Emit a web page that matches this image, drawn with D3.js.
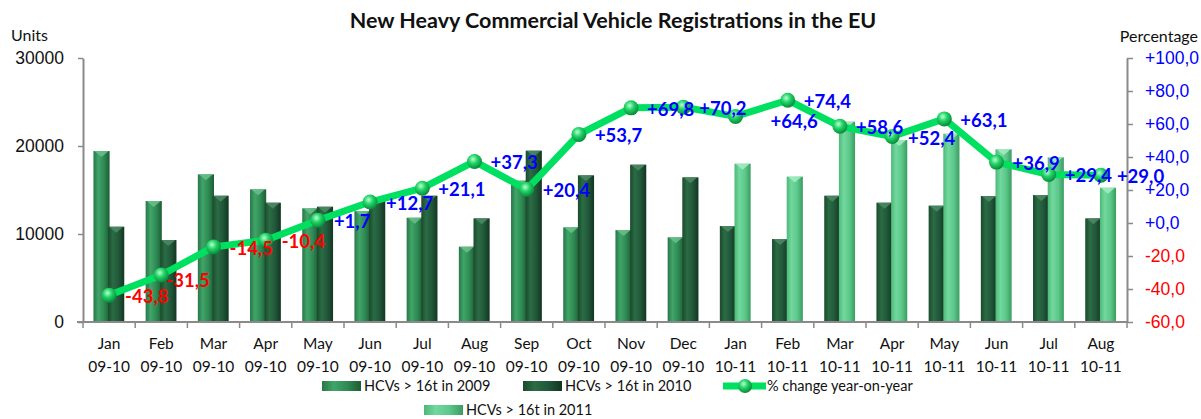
<!DOCTYPE html>
<html>
<head>
<meta charset="utf-8">
<script src="https://cdn.jsdelivr.net/npm/d3@7"></script>
<style>
	body { margin: 0; background: #fff; }
	svg { display: block; font-family: Lato, 'Liberation Sans', sans-serif; }
</style>
</head>
<body>
<svg id="chart" width="1201" height="419"></svg>
<script>
const months = ['Jan', 'Feb', 'Mar', 'Apr', 'May', 'Jun', 'Jul', 'Aug', 'Sep', 'Oct', 'Nov', 'Dec',
	'Jan', 'Feb', 'Mar', 'Apr', 'May', 'Jun', 'Jul', 'Aug'];
const periods = ['09-10', '09-10', '09-10', '09-10', '09-10', '09-10', '09-10', '09-10', '09-10', '09-10', '09-10', '09-10',
	'10-11', '10-11', '10-11', '10-11', '10-11', '10-11', '10-11', '10-11'];
const hcv2009 = [19430, 13750, 16780, 15080, 12920, 12610, 11850, 8560, 16060, 10760, 10450, 9620];
const hcv2010 = [10830, 9320, 14350, 13560, 13100, 14100, 14350, 11780, 19470, 16670, 17880, 16440,
	10910, 9430, 14350, 13560, 13220, 14320, 14430, 11780];
const hcv2011 = [17990, 16520, 22760, 20680, 21400, 19620, 18710, 15260];
const pctChange = [-43.8, -31.5, -14.5, -10.4, 1.7, 12.7, 21.1, 37.3, 20.4, 53.7, 69.8, 70.2,
	64.6, 74.4, 58.6, 52.4, 63.1, 36.9, 29.4, 29.0];
const unitTicks = [0, 10000, 20000, 30000];
const pctTicks = [-60, -40, -20, 0, 20, 40, 60, 80, 100];

// hand nudges for the data labels that were moved in the original
const labelNudge = {1: [-11, 4], 12: [19, 4]};

const categories = months.map((m, i) => i);
const svg = d3.select('#chart');

const x = d3.scaleBand().domain(categories).range([83, 1127]);
const inner = d3.scaleBand().domain(['a', 'b']).range([x.bandwidth() * 0.2, x.bandwidth() * 0.8]);
const yUnits = d3.scaleLinear().domain([0, 30000]).range([322, 58]);
const yPct = d3.scaleLinear().domain([-60, 100]).range([322, 58]);

const fmtPct = v => (v >= 0 ? '+' : '') + v.toFixed(1).replace('.', ',');
const pctColor = v => v >= 0 ? '#0000ff' : '#ff0000';

// gradients
const defs = svg.append('defs');
const barStyles = {
	s2009: {stops: ['#28764a', '#40a568', '#2f8a53', '#1d5c36'], cap: '#6cc08c'},
	s2010: {stops: ['#1a4a2c', '#2b6c44', '#21573a', '#123620'], cap: '#4f8a65'},
	s2011: {stops: ['#4cb878', '#72d89d', '#5cc88a', '#3b9c62'], cap: '#a6ecc2'},
};
Object.entries(barStyles).forEach(([key, st]) => {
	const g = defs.append('linearGradient').attr('id', 'g-' + key).attr('x1', 0).attr('x2', 1).attr('y1', 0).attr('y2', 0);
	[0, 0.3, 0.65, 1].forEach((o, i) => g.append('stop').attr('offset', o).attr('stop-color', st.stops[i]));
});
const ball = defs.append('radialGradient').attr('id', 'ball').attr('cx', 0.4).attr('cy', 0.35).attr('r', 0.65);
ball.append('stop').attr('offset', 0).attr('stop-color', '#b8ffd2');
ball.append('stop').attr('offset', 0.45).attr('stop-color', '#22d466');
ball.append('stop').attr('offset', 1).attr('stop-color', '#078a3c');

// title
svg.append('text')
	.attr('x', 613).attr('y', 28)
	.attr('text-anchor', 'middle')
	.attr('font-size', 21.5).attr('font-weight', 'bold').attr('fill', '#111')
	.text('New Heavy Commercial Vehicle Registrations in the EU');

svg.append('text').attr('x', 11).attr('y', 41).attr('font-size', 16).attr('fill', '#111').text('Units');
svg.append('text').attr('x', 1198).attr('y', 42).attr('text-anchor', 'end').attr('font-size', 16).attr('fill', '#111').text('Percentage');

// bars
const bars = [];
categories.forEach(i => {
	if (i < 12) {
		bars.push({i, slot: 'a', v: hcv2009[i], s: 's2009'});
		bars.push({i, slot: 'b', v: hcv2010[i], s: 's2010'});
	} else {
		bars.push({i, slot: 'a', v: hcv2010[i], s: 's2010'});
		bars.push({i, slot: 'b', v: hcv2011[i - 12], s: 's2011'});
	}
});
const barW = inner.bandwidth() + 0.5;
const barG = svg.append('g').selectAll('g').data(bars).join('g')
	.attr('transform', d => `translate(${x(d.i) + inner(d.slot) - (d.slot === 'b' ? 1 : 0)},0)`);
barG.append('rect')
	.attr('x', 0).attr('width', barW)
	.attr('y', d => yUnits(d.v))
	.attr('height', d => yUnits(0) - yUnits(d.v))
	.attr('fill', d => `url(#g-${d.s})`);
barG.append('path')
	.attr('d', d => {
		const t = yUnits(d.v);
		return `M1,${t}L${barW - 1},${t}L${barW / 2},${t + 6}Z`;
	})
	.attr('fill', d => barStyles[d.s].cap)
	.attr('opacity', 0.85);

// axes
const axisColor = '#8a8a8a';
const leftAxis = svg.append('g').attr('transform', 'translate(83,0)')
	.call(d3.axisLeft(yUnits).tickValues(unitTicks).tickFormat(d3.format('d')).tickSize(5).tickSizeOuter(0).tickPadding(14));
const rightAxis = svg.append('g').attr('transform', 'translate(1127,0)')
	.call(d3.axisRight(yPct).tickValues(pctTicks).tickFormat(fmtPct).tickSize(6).tickSizeOuter(0).tickPadding(12));
[leftAxis, rightAxis].forEach(a => {
	a.select('.domain').attr('stroke', axisColor).attr('stroke-width', 2);
	a.selectAll('.tick line').attr('stroke', axisColor).attr('stroke-width', 1.5);
	a.selectAll('text').attr('font-size', 17.5).attr('font-family', null);
});
leftAxis.selectAll('text').attr('fill', '#111');
rightAxis.selectAll('text').attr('fill', d => pctColor(d));

const bottom = svg.append('g');
bottom.append('line').attr('x1', 77).attr('x2', 1127).attr('y1', yUnits(0)).attr('y2', yUnits(0))
	.attr('stroke', axisColor).attr('stroke-width', 2);
bottom.selectAll('line.tk').data([...categories.map(i => x(i)), x.range()[1]]).join('line').attr('class', 'tk')
	.attr('x1', d => d).attr('x2', d => d).attr('y1', yUnits(0)).attr('y2', yUnits(0) + 6)
	.attr('stroke', axisColor).attr('stroke-width', 1.5);
const xl = bottom.selectAll('text.xl').data(categories).join('text').attr('class', 'xl')
	.attr('text-anchor', 'middle').attr('font-size', 15.5).attr('fill', '#111');
xl.append('tspan').attr('x', d => x(d) + x.bandwidth() / 2).attr('y', 349).text(d => months[d]);
xl.append('tspan').attr('x', d => x(d) + x.bandwidth() / 2).attr('y', 372).text(d => periods[d]);

// line
const cx = i => x(i) + x.bandwidth() / 2;
svg.append('path')
	.datum(pctChange)
	.attr('d', d3.line().x((v, i) => cx(i)).y(v => yPct(v)))
	.attr('fill', 'none').attr('stroke', '#00e060').attr('stroke-width', 7).attr('stroke-linejoin', 'round');
svg.append('g').selectAll('circle').data(pctChange).join('circle')
	.attr('cx', (v, i) => cx(i)).attr('cy', v => yPct(v)).attr('r', 7.5)
	.attr('fill', 'url(#ball)');

// data labels
svg.append('g').selectAll('text').data(pctChange).join('text')
	.attr('x', (v, i) => cx(i) + 16 + (labelNudge[i] ? labelNudge[i][0] : 0))
	.attr('y', (v, i) => yPct(v) + 8 + (labelNudge[i] ? labelNudge[i][1] : 0))
	.attr('font-size', 18.5).attr('font-weight', 'bold')
	.attr('fill', pctColor)
	.text(fmtPct);

// legend
const legend = svg.append('g').attr('font-size', 14.5).attr('fill', '#111');
const swatches = [
	{x: 322, y: 386, s: 's2009', label: 'HCVs > 16t in 2009'},
	{x: 523, y: 386, s: 's2010', label: 'HCVs > 16t in 2010'},
	{x: 424, y: 410, s: 's2011', label: 'HCVs > 16t in 2011'},
];
swatches.forEach(d => {
	legend.append('rect').attr('x', d.x).attr('y', d.y - 5).attr('width', 39).attr('height', 10)
		.attr('fill', `url(#g-${d.s})`);
	legend.append('text').attr('x', d.x + 42).attr('y', d.y + 5).text(d.label);
});
legend.append('line').attr('x1', 723).attr('x2', 766).attr('y1', 386).attr('y2', 386)
	.attr('stroke', '#00e060').attr('stroke-width', 7);
legend.append('circle').attr('cx', 745).attr('cy', 386).attr('r', 7).attr('fill', 'url(#ball)');
legend.append('text').attr('x', 767).attr('y', 391).text('% change year-on-year');
</script>
</body>
</html>
